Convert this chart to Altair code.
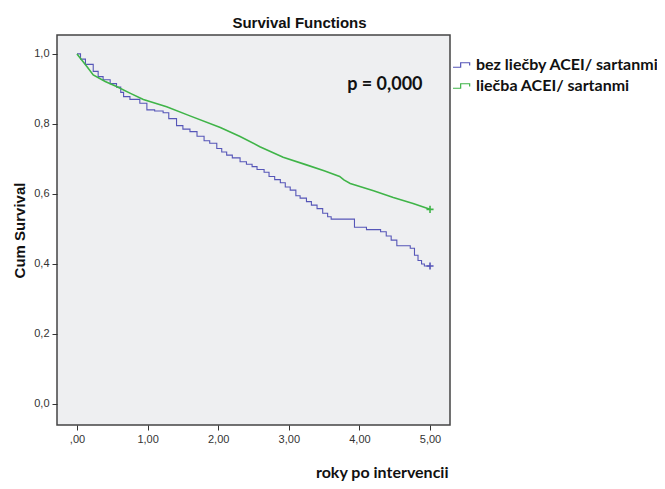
import altair as alt
import pandas as pd

# ---- data ----
groups = ["bez liečby ACEI/ sartanmi", "liečba ACEI/ sartanmi"]
colors = ["#5656b8", "#3fb448"]

blue_t = [0.00, 0.05, 0.12, 0.23, 0.30, 0.37, 0.47, 0.56, 0.62, 0.66, 0.75, 0.89, 0.99,
          1.10, 1.22, 1.30, 1.41, 1.50, 1.60, 1.70, 1.80, 1.88, 1.98, 2.05, 2.12, 2.20,
          2.31, 2.40, 2.48, 2.55, 2.65, 2.72, 2.80, 2.88, 2.95, 3.02, 3.10, 3.16, 3.25,
          3.32, 3.40, 3.48, 3.55, 3.60, 3.93, 4.10, 4.30, 4.38, 4.45, 4.53, 4.72, 4.78,
          4.83, 4.88, 4.92, 5.00]
blue_s = [1.000, 0.985, 0.970, 0.950, 0.935, 0.926, 0.915, 0.905, 0.890, 0.878, 0.870, 0.859, 0.840,
          0.837, 0.832, 0.815, 0.795, 0.785, 0.778, 0.765, 0.752, 0.745, 0.730, 0.720, 0.711, 0.703,
          0.692, 0.685, 0.678, 0.670, 0.662, 0.650, 0.641, 0.632, 0.620, 0.611, 0.595, 0.588, 0.578,
          0.568, 0.558, 0.545, 0.535, 0.528, 0.505, 0.498, 0.492, 0.480, 0.468, 0.452, 0.445, 0.425,
          0.410, 0.400, 0.394, 0.394]

green_t = [0.00, 0.07, 0.14, 0.23, 0.40, 0.56, 0.75, 0.94, 1.27, 1.60, 2.03, 2.31, 2.59,
           2.92, 3.25, 3.50, 3.72, 3.78, 3.87, 4.20, 4.48, 4.76, 5.00]
green_s = [1.000, 0.982, 0.964, 0.940, 0.921, 0.907, 0.888, 0.870, 0.849, 0.823, 0.790, 0.764,
           0.735, 0.705, 0.683, 0.666, 0.650, 0.640, 0.630, 0.609, 0.590, 0.573, 0.556]

censor_t = [5.00, 5.00]
censor_s = [0.394, 0.556]

x_ticks = [0, 1, 2, 3, 4, 5]
y_ticks = [0.0, 0.2, 0.4, 0.6, 0.8, 1.0]
p_text = "p = 0,000"

# ---- tables ----
blue_df = pd.DataFrame({"t": blue_t, "s": blue_s, "g": groups[0]})
green_df = pd.DataFrame({"t": green_t, "s": green_s, "g": groups[1]})
cens_df = pd.DataFrame({"t": censor_t, "s": censor_s, "g": groups})

W, H = 393, 390
label_font = "Liberation Sans"
bold_font = "Lato"

xscale = alt.Scale(domain=[-0.283, 5.283], nice=False, zero=False)
yscale = alt.Scale(domain=[-0.06, 1.054], nice=False, zero=False)
cscale = alt.Scale(domain=groups, range=colors)

step_symbol = "M-1,0.25 L-0.15,0.25 L-0.15,-0.25 L0.85,-0.25 L0.85,0.05"

x_axis = alt.Axis(
    values=x_ticks, grid=False, domain=False, tickSize=5, tickColor="#333",
    labelFont=label_font, labelFontSize=11, labelColor="#333", labelPadding=3,
    labelExpr="datum.value == 0 ? ',00' : replace(format(datum.value, '.2f'), '.', ',')",
    title="roky po intervencii", titleFont=bold_font, titleFontSize=16,
    titleFontWeight="bold", titleColor="#111", titleAnchor="end", titleAlign="right",
    titleX=W - 2, titleY=52, titleBaseline="alphabetic",
)
y_axis = alt.Axis(
    values=y_ticks, grid=False, domain=False, tickSize=5, tickColor="#333",
    labelFont=label_font, labelFontSize=11, labelColor="#333", labelPadding=3,
    labelExpr="replace(format(datum.value, '.1f'), '.', ',')",
    title="Cum Survival", titleFont=label_font, titleFontSize=15,
    titleFontWeight="bold", titleColor="#111", titleX=-38, titleY=H / 2,
    titleAngle=-90, titleAlign="center", titleBaseline="middle",
)

legend = alt.Legend(
    title=None, orient="none", legendX=395, legendY=20,
    symbolType=step_symbol, symbolSize=324, symbolStrokeWidth=1.2,
    symbolFillColor="transparent", labelFont=bold_font, labelFontSize=16,
    labelFontWeight="bold", labelColor="#111", labelOffset=4, rowPadding=3,
    labelLimit=300,
)

blue_line = alt.Chart(blue_df).mark_line(interpolate="step-after", strokeWidth=1.1).encode(
    x=alt.X("t:Q", scale=xscale, axis=x_axis),
    y=alt.Y("s:Q", scale=yscale, axis=y_axis),
    color=alt.Color("g:N", scale=cscale, legend=legend),
)
green_line = alt.Chart(green_df).mark_line(interpolate="linear", strokeWidth=1.6).encode(
    x=alt.X("t:Q", scale=xscale),
    y=alt.Y("s:Q", scale=yscale),
    color=alt.Color("g:N", scale=cscale, legend=legend),
)
censor = alt.Chart(cens_df).mark_point(
    shape="M-1,0 L1,0 M0,-1 L0,1", size=50, strokeWidth=1.6, filled=False, opacity=1
).encode(
    x=alt.X("t:Q", scale=xscale),
    y=alt.Y("s:Q", scale=yscale),
    color=alt.Color("g:N", scale=cscale, legend=None),
)
ptext = alt.Chart(pd.DataFrame({"label": [p_text]})).mark_text(
    font=bold_font, fontSize=18, fontWeight="bold", color="#111"
).encode(
    x=alt.datum(4.36), y=alt.datum(0.912), text="label:N"
)

chart = alt.layer(blue_line, green_line, censor, ptext).properties(
    width=W, height=H,
    title=alt.TitleParams("Survival Functions", font=label_font, fontSize=15,
                          fontWeight="bold", color="#111", offset=4, anchor="middle",
                          frame="group", dx=46),
    autosize=alt.AutoSizeParams(type="none"),
    padding={"left": 49, "top": 27, "right": 207, "bottom": 56},
    background="white",
).configure_view(
    fill="#eeeff1", stroke="#444", strokeWidth=1.5
)

chart.save("out.html", embed_options={"renderer": "svg", "actions": False})
